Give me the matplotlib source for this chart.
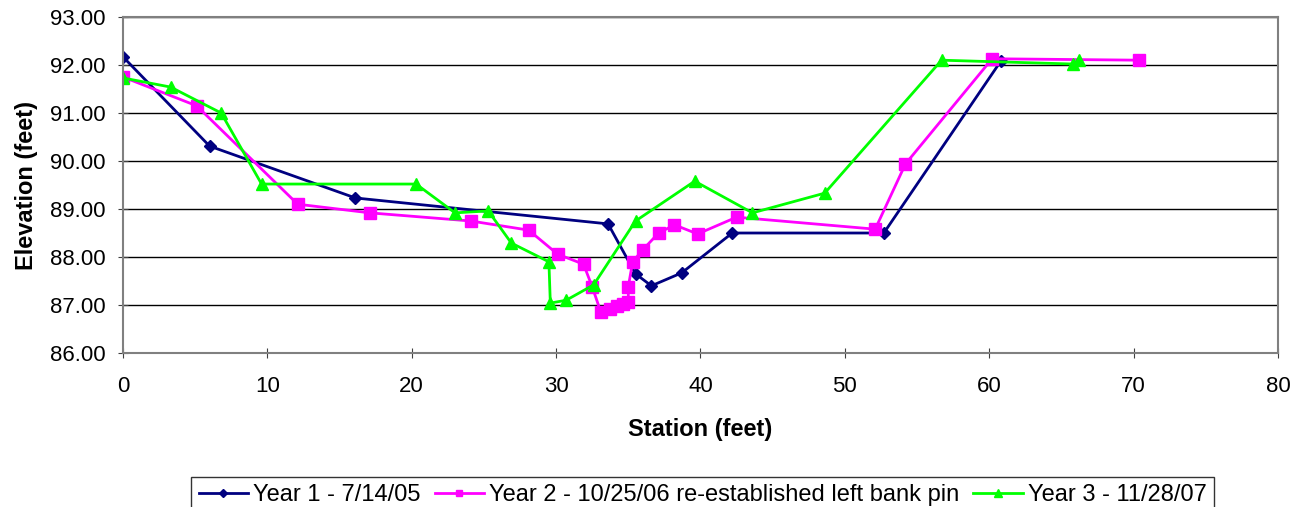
import matplotlib.pyplot as plt

plt.rcParams['font.family'] = ['Liberation Sans', 'DejaVu Sans']

# Year 1 - 7/14/05
x1 = [0, 6.0, 16.1, 33.6, 35.5, 36.6, 38.7, 42.2, 52.7, 60.8]
y1 = [92.17, 90.31, 89.23, 88.69, 87.65, 87.40, 87.67, 88.50, 88.50, 92.08]

# Year 2 - 10/25/06
x2 = [0, 5.1, 12.1, 17.1, 24.1, 28.1, 30.1, 31.9, 32.5, 33.1, 33.7, 34.2,
      34.6, 35.0, 35.0, 35.3, 36.0, 37.1, 38.2, 39.8, 42.5, 52.1, 54.2,
      60.2, 70.4]
y2 = [91.75, 91.15, 89.10, 88.92, 88.75, 88.56, 88.06, 87.85, 87.38, 86.85,
      86.92, 86.98, 87.02, 87.06, 87.38, 87.90, 88.15, 88.50, 88.67, 88.48,
      88.83, 88.58, 89.94, 92.13, 92.10]

# Year 3 - 11/28/07
x3 = [0, 3.3, 6.8, 9.6, 20.3, 23.0, 25.3, 26.9, 29.5, 29.6, 30.7, 32.6,
      35.5, 39.6, 43.6, 48.6, 56.7, 65.8, 66.2]
y3 = [91.73, 91.54, 91.00, 89.52, 89.52, 88.92, 88.96, 88.29, 87.90, 87.04,
      87.10, 87.42, 88.75, 89.58, 88.92, 89.33, 92.10, 92.02, 92.10]

labels = ['Year 1 - 7/14/05',
          'Year 2 - 10/25/06 re-established left bank pin',
          'Year 3 - 11/28/07']

fig = plt.figure(figsize=(13.07, 5.07), dpi=100)
ax = fig.add_axes([0.0941, 0.3037, 0.8837, 0.6628])

ax.plot(x1, y1, color='#000080', lw=2, marker='D', ms=6.5, label=labels[0])
ax.plot(x2, y2, color='#FF00FF', lw=2, marker='s', ms=8, label=labels[1])
ax.plot(x3, y3, color='#00FF00', lw=2, marker='^', ms=8.5, label=labels[2])

ax.set_xlim(0, 80)
ax.set_ylim(86, 93)
ax.set_xticks(range(0, 81, 10))
ax.set_yticks([86, 87, 88, 89, 90, 91, 92, 93])
ax.set_yticklabels(['%.2f' % v for v in ax.get_yticks()])
ax.yaxis.grid(True, color='black', lw=1)
ax.set_axisbelow(True)
for s in ax.spines.values():
    s.set_color('#808080')
    s.set_linewidth(1.5)
ax.tick_params(axis='both', labelsize=16, color='#404040', direction='inout', length=7)
ax.tick_params(axis='x', pad=13)
ax.tick_params(axis='y', pad=9)

ax.set_xlabel('Station (feet)', fontsize=17, fontweight='bold', labelpad=15)
ax.set_ylabel('Elevation (feet)', fontsize=17, fontweight='bold', labelpad=9)

leg = fig.legend(loc='upper center', bbox_to_anchor=(0.5375, 1 - 477 / 507), ncol=3,
                 fontsize=17, frameon=True, fancybox=False, edgecolor='black',
                 handlelength=2.1, handletextpad=0.2, columnspacing=0.6,
                 borderpad=0.3, borderaxespad=0, markerscale=0.6)
leg.get_frame().set_linewidth(1)

fig.savefig('out.png', dpi=100)
